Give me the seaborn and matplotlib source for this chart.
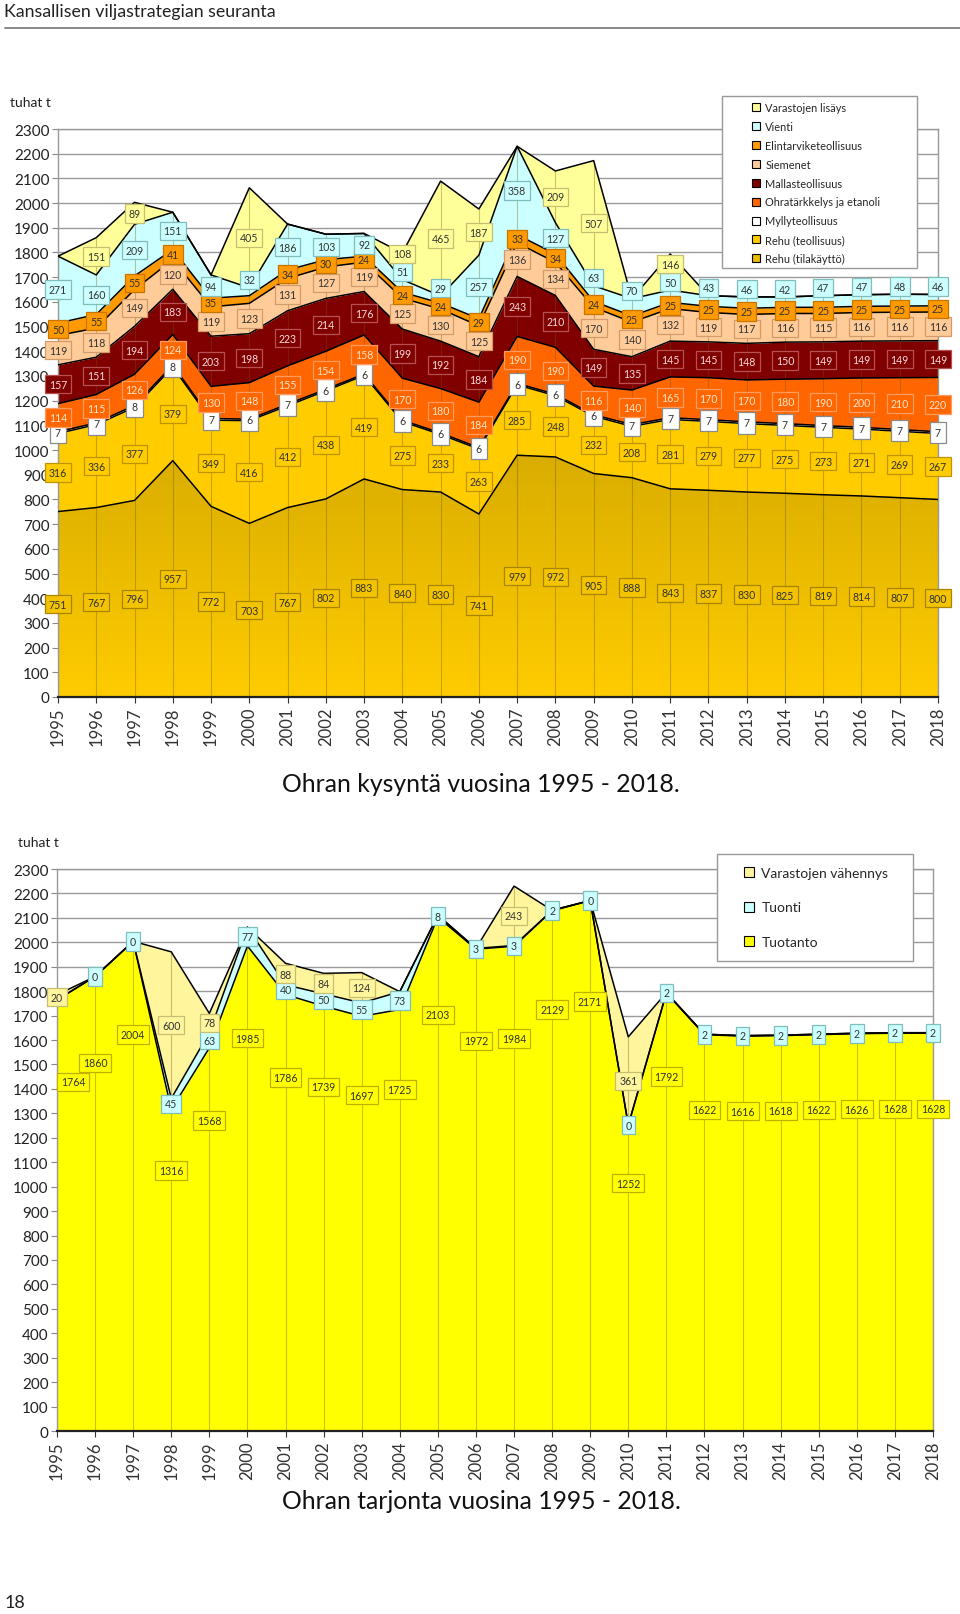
import numpy as np
import pandas as pd
import matplotlib
matplotlib.use("Agg")
import matplotlib.pyplot as plt
import seaborn as sns
from matplotlib.patches import Patch, Rectangle
from matplotlib.lines import Line2D
from matplotlib.colors import LinearSegmentedColormap

vuodet = list(range(1995, 2019))

# Ohran kysyntä (1000 t), pinon alimmasta ylimpään
rehu_tila = [751, 767, 796, 957, 772, 703, 767, 802, 883, 840, 830, 741,
             979, 972, 905, 888, 843, 837, 830, 825, 819, 814, 807, 800]
rehu_teol = [316, 336, 377, 379, 349, 416, 412, 438, 419, 275, 233, 263,
             285, 248, 232, 208, 281, 279, 277, 275, 273, 271, 269, 267]
mylly = [7, 7, 8, 8, 7, 6, 7, 6, 6, 6, 6, 6, 6, 6, 6, 7, 7, 7, 7, 7, 7, 7, 7, 7]
ohratarkkelys = [114, 115, 126, 124, 130, 148, 155, 154, 158, 170, 180, 184,
                 190, 190, 116, 140, 165, 170, 170, 180, 190, 200, 210, 220]
mallas = [157, 151, 194, 183, 203, 198, 223, 214, 176, 199, 192, 184,
          243, 210, 149, 135, 145, 145, 148, 150, 149, 149, 149, 149]
siemenet = [119, 118, 149, 120, 119, 123, 131, 127, 119, 125, 130, 125,
            136, 134, 170, 140, 132, 119, 117, 116, 115, 116, 116, 116]
elintarvike = [50, 55, 55, 41, 35, 31, 34, 30, 24, 24, 24, 29,
               33, 34, 24, 25, 25, 25, 25, 25, 25, 25, 25, 25]
vienti = [271, 160, 209, 151, 94, 32, 186, 103, 92, 51, 29, 257,
          358, 127, 63, 70, 50, 43, 46, 42, 47, 47, 48, 46]
varastojen_lisays = [0, 151, 89, 0, 0, 405, 0, 0, 0, 108, 465, 187,
                     0, 209, 507, 0, 146, 0, 0, 0, 0, 0, 0, 0]

# Ohran tarjonta (1000 t)
tuotanto = [1764, 1860, 2004, 1316, 1568, 1985, 1786, 1739, 1697, 1725, 2103, 1972,
            1984, 2129, 2171, 1252, 1792, 1622, 1616, 1618, 1622, 1626, 1628, 1628]
tuonti = [1, 0, 0, 45, 63, 77, 40, 50, 55, 73, 8, 3, 3, 2, 0, 0, 2, 2, 2, 2, 2, 2, 2, 2]
varastojen_vahennys = [20, 0, 0, 600, 78, 0, 88, 84, 124, 0, 0, 0,
                       243, 0, 0, 361, 0, 0, 0, 0, 0, 0, 0, 0]

# (nimi, arvot, täyttö, laatikon reuna, tekstin väri)
kysynta = [
    ("Rehu (tilakäyttö)", rehu_tila, "#E9BA00", "#A88400", "#333333"),
    ("Rehu (teollisuus)", rehu_teol, "#FFCC00", "#C09400", "#333333"),
    ("Myllyteollisuus", mylly, "#FFFFFF", "#8A8A8A", "#333333"),
    ("Ohratärkkelys ja etanoli", ohratarkkelys, "#FF6600", "#FF9A60", "#FFE4CC"),
    ("Mallasteollisuus", mallas, "#800000", "#B85050", "#F6DADA"),
    ("Siemenet", siemenet, "#FFCC99", "#D49B6A", "#333333"),
    ("Elintarviketeollisuus", elintarvike, "#FF9900", "#C87400", "#333333"),
    ("Vienti", vienti, "#CCFFFF", "#80BDBD", "#333333"),
    ("Varastojen lisäys", varastojen_lisays, "#FFFF99", "#C6BE70", "#333333"),
]
tarjonta = [
    ("Tuotanto", tuotanto, "#FFFF00", "#C2B000", "#333333"),
    ("Tuonti", tuonti, "#CCFFFF", "#80BDBD", "#333333"),
    ("Varastojen vähennys", varastojen_vahennys, "#FFF59D", "#C6BE70", "#333333"),
]
piilotetut = {("Elintarviketeollisuus", 2000), ("Tuonti", 1995)}
nollat_pois = {"Varastojen lisäys", "Varastojen vähennys"}

sns.set_style("white")
plt.rcParams["font.family"] = ["Lato", "DejaVu Sans"]

W, H = 960, 1615
fig = plt.figure(figsize=(W / 100, H / 100), dpi=100)


def px_axes(l, t, r, b):
    return fig.add_axes([l / W, 1 - b / H, (r - l) / W, (b - t) / H])


def merkinta(ax, x, y, txt, fc, ec, tc, pad=0.35):
    ax.text(x, y, txt, ha="center", va="center", fontsize=7.6, color=tc,
            zorder=6, clip_on=False,
            bbox=dict(boxstyle=f"square,pad={pad}", fc=fc, ec=ec, lw=0.9))


def pohja(ax):
    ax.set_xlim(1995, 2018)
    ax.set_ylim(0, 2300)
    ax.set_yticks(range(0, 2301, 100))
    ax.set_xticks(vuodet)
    ax.set_xticklabels([str(v) for v in vuodet], rotation=90, fontsize=12, color="#333333")
    ax.tick_params(axis="y", labelsize=11, length=4, color="#888888", pad=2,
                   labelcolor="#222222", left=True)
    ax.tick_params(axis="x", length=4, color="#333333", pad=3, bottom=True)
    ax.grid(axis="y", color="#9a9a9a", lw=1.0)
    ax.grid(axis="x", visible=False)
    ax.set_axisbelow(True)
    for s in ["top", "right", "left"]:
        ax.spines[s].set_color("#999999")
        ax.spines[s].set_linewidth(1.0)
    ax.spines["bottom"].set_color("#222222")
    ax.spines["bottom"].set_linewidth(1.6)
    ax.set_xlabel("")
    ax.set_ylabel("")


def pinoa(ax, sarjat, liukuvari=False):
    ala = np.zeros(len(vuodet))
    rivit = []
    for i, (nimi, arvot, vari, reuna, tc) in enumerate(sarjat):
        yla = ala + np.array(arvot)
        if i == 0 and liukuvari:
            alue = ax.fill_between(vuodet, ala, yla, facecolor="none", lw=0, zorder=1)
            grad = np.linspace(0, 1, 256).reshape(-1, 1)
            cmap = LinearSegmentedColormap.from_list("g", ["#FFCC00", "#D9AC00"])
            im = ax.imshow(grad, extent=[1995, 2018, 0, 1000], origin="lower",
                           cmap=cmap, aspect="auto", zorder=1)
            im.set_clip_path(alue.get_paths()[0], transform=ax.transData)
        else:
            ax.fill_between(vuodet, ala, yla, color=vari, lw=0, zorder=1)
        for v, b in zip(vuodet, yla):
            rivit.append({"vuosi": v, "taso": b, "sarja": nimi})
        ala = yla
    df = pd.DataFrame(rivit)
    sns.lineplot(data=df, x="vuosi", y="taso", units="sarja", estimator=None,
                 color="black", lw=1.1, ax=ax, legend=False, zorder=3)
    ax.vlines(vuodet, 0, ala, colors="#6b5a00", alpha=0.35, lw=0.8, zorder=2)
    return ala


def merkinnat(ax, sarjat, tarjonta_kaavio=False):
    ala = np.zeros(len(vuodet))
    for i, (nimi, arvot, vari, reuna, tc) in enumerate(sarjat):
        for j, v in enumerate(vuodet):
            a = arvot[j]
            if (nimi, v) in piilotetut or (nimi in nollat_pois and a == 0):
                continue
            x = v
            y = ala[j] + a / 2
            if tarjonta_kaavio and i == 0:
                y = a * 0.81
                if j == 0:
                    x = v + 0.42
            if nimi == "Vienti" and a < 80:
                y = max(y, ala[j] + a + 32)
            if nimi == "Varastojen lisäys" and vienti[j] < 80:
                y = max(y, ala[j] + 105)
            pad = 0.5 if nimi == "Myllyteollisuus" else 0.35
            fc = "#F3C300" if i == 0 and not tarjonta_kaavio else vari
            merkinta(ax, x, y, str(a), fc, reuna, tc, pad=pad)
        ala = ala + np.array(arvot)


# --- kysyntä ---
ax1 = px_axes(58, 130, 938, 698)
pinoa(ax1, kysynta, liukuvari=True)
merkinnat(ax1, kysynta)
pohja(ax1)

# --- tarjonta ---
ax2 = px_axes(57, 870, 933, 1432)
pinoa(ax2, tarjonta)
merkinnat(ax2, tarjonta, tarjonta_kaavio=True)
pohja(ax2)

# legendat
fig.add_artist(Rectangle((722 / W, 1 - 269 / H), (917 - 722) / W, (269 - 97) / H,
                         transform=fig.transFigure, fc="white", ec="#999999", lw=1.0, zorder=5))
kahvat1 = [Patch(fc=s[2], ec="black", lw=0.8) for s in reversed(kysynta)]
leg1 = fig.legend(kahvat1, [s[0] for s in reversed(kysynta)], loc="upper left",
                  bbox_to_anchor=(752 / W, 1 - 103 / H), frameon=False, fontsize=7.9,
                  handlelength=0.75, handleheight=0.75, handletextpad=0.45,
                  labelspacing=0.72, borderpad=0, borderaxespad=0)
leg1.set_zorder(6)

fig.add_artist(Rectangle((717 / W, 1 - 962 / H), (913 - 717) / W, (962 - 855) / H,
                         transform=fig.transFigure, fc="white", ec="#999999", lw=1.0, zorder=5))
kahvat2 = [Patch(fc=s[2], ec="black", lw=0.8) for s in reversed(tarjonta)]
leg2 = fig.legend(kahvat2, [s[0] for s in reversed(tarjonta)], loc="upper left",
                  bbox_to_anchor=(744 / W, 1 - 868 / H), frameon=False, fontsize=10,
                  handlelength=0.75, handleheight=0.75, handletextpad=0.5,
                  labelspacing=1.62, borderpad=0, borderaxespad=0)
leg2.set_zorder(6)

# tekstit
fig.text(4 / W, 1 - 12 / H, "Kansallisen viljastrategian seuranta", fontsize=12.8,
         va="center", ha="left", color="#222222")
fig.add_artist(Line2D([5 / W, 1.0], [1 - 29 / H, 1 - 29 / H], transform=fig.transFigure,
                      color="#808080", lw=1.3))
fig.text(10 / W, 1 - 103 / H, "tuhat t", fontsize=10, va="center", ha="left", color="#222222")
fig.text(18 / W, 1 - 843 / H, "tuhat t", fontsize=10, va="center", ha="left", color="#222222")
fig.text(481 / W, 1 - 785 / H, "Ohran kysyntä vuosina 1995 - 2018.", fontsize=17.8,
         va="center", ha="center", color="#111111")
fig.text(481 / W, 1 - 1502 / H, "Ohran tarjonta vuosina 1995 - 2018.", fontsize=17.8,
         va="center", ha="center", color="#111111")
fig.text(5 / W, 1 - 1603 / H, "18", fontsize=13, va="center", ha="left", color="#222222")

fig.savefig("out.png", dpi=100)
